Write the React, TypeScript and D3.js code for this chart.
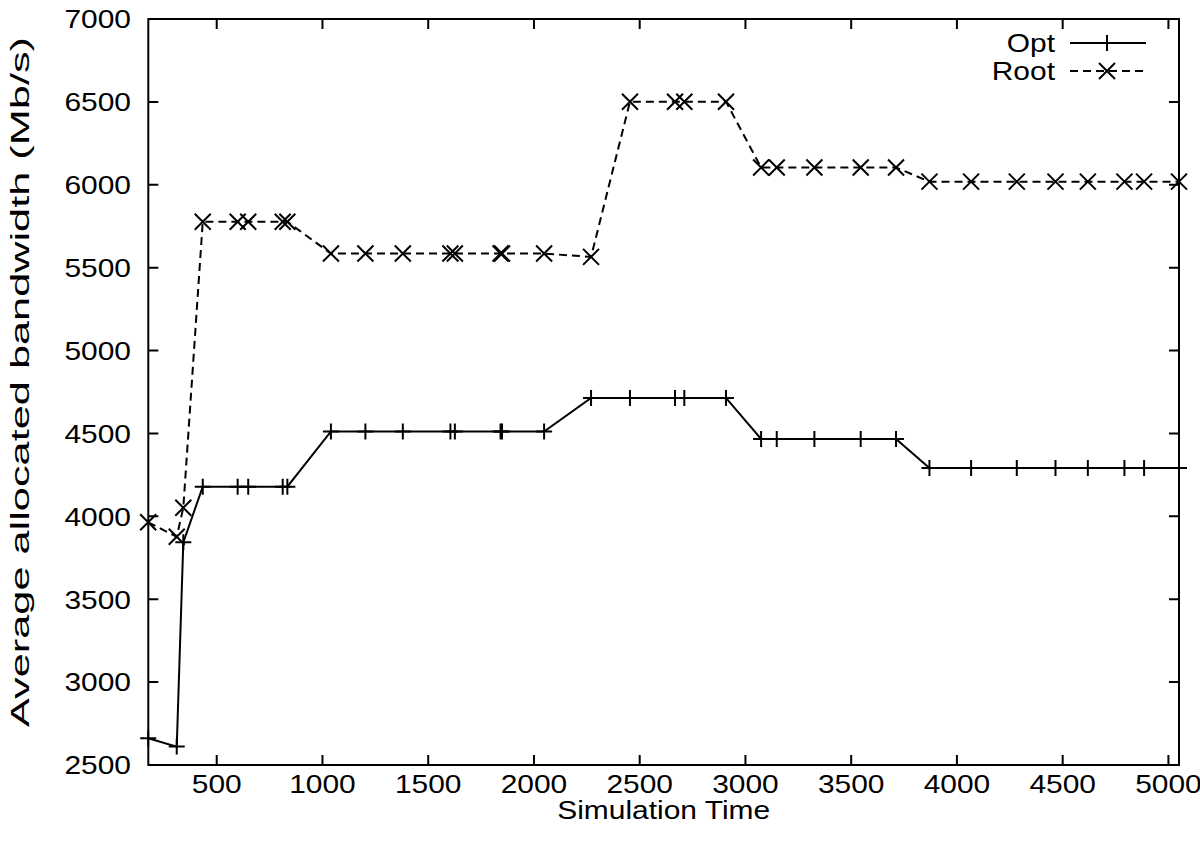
import React from 'react'
import * as d3 from 'd3'

// simulation times shared by both series
const times = [176, 311, 342, 434, 599, 649, 812, 834, 1040, 1203, 1380, 1605, 1626, 1842, 1849, 2048,
  2270, 2454, 2667, 2711, 2908, 3074, 3148, 3326, 3545, 3712, 3870, 4067, 4283, 4466, 4619, 4792, 4885, 5050]

const optValues = [2661, 2611, 3843, 4179, 4179, 4179, 4179, 4179, 4512, 4512, 4512, 4512, 4512, 4512, 4512, 4512,
  4714, 4714, 4714, 4714, 4714, 4467, 4467, 4467, 4467, 4467, 4292, 4292, 4292, 4292, 4292, 4292, 4292, 4292]

const rootValues = [3964, 3877, 4052, 5777, 5777, 5777, 5777, 5777, 5585, 5585, 5585, 5585, 5585, 5585, 5585, 5585,
  5565, 6501, 6501, 6501, 6501, 6104, 6104, 6104, 6104, 6104, 6019, 6019, 6019, 6019, 6019, 6019, 6019, 6019]

const xTicks = [500, 1000, 1500, 2000, 2500, 3000, 3500, 4000, 4500, 5000]
const yTicks = [2500, 3000, 3500, 4000, 4500, 5000, 5500, 6000, 6500, 7000]

const W = 1200
const H = 851
const left = 148.3, right = 1179, top = 19, bottom = 765
const font = '"Liberation Sans", Arial, Helvetica, sans-serif'
const fs = 26.5
const stretch = 1.13 // the reference glyphs are a bit wider than Arial

const plusPath = (x: number, y: number, s = 8) => `M${x - s},${y}H${x + s}M${x},${y - s}V${y + s}`
const crossPath = (x: number, y: number, s = 8) => `M${x - s},${y - s}L${x + s},${y + s}M${x - s},${y + s}L${x + s},${y - s}`

// text with glyphs widened along the baseline
function Label ({x, y, anchor, children, central}: any) {
  return (
    <text transform={`translate(${x},${y}) scale(${stretch},1)`} textAnchor={anchor}
      dominantBaseline={central ? 'central' : undefined}>{children}</text>
  )
}

export default function App () {
  const x = d3.scaleLinear().domain([176.5, 5050]).range([left, right])
  const y = d3.scaleLinear().domain([2500, 7000]).range([bottom, top])

  const line = d3.line<[number, number]>().x(d => x(d[0])).y(d => y(d[1]))
  const opt = times.map((t, i) => [t, optValues[i]] as [number, number])
  const root = times.map((t, i) => [t, rootValues[i]] as [number, number])

  const tickLen = 10

  return (
    <div style={{position: 'absolute', left: 0, top: 0}}>
      <svg width={W} height={H} style={{display: 'block', background: '#fff'}}>
        <g stroke='#000' strokeWidth={2} fill='none'>
          {/* ticks, mirrored on top and right */}
          {xTicks.map(t => (
            <path key={'xt' + t} d={`M${x(t)},${bottom}V${bottom - tickLen}M${x(t)},${top}V${top + tickLen}`} />
          ))}
          {yTicks.map(t => (
            <path key={'yt' + t} d={`M${left},${y(t)}H${left + tickLen}M${right},${y(t)}H${right - tickLen}`} />
          ))}
        </g>

        {/* series */}
        <path d={line(opt) || ''} fill='none' stroke='#000' strokeWidth={2} />
        <path d={line(root) || ''} fill='none' stroke='#000' strokeWidth={2} strokeDasharray='8,5' />
        <g stroke='#000' strokeWidth={2} fill='none'>
          {opt.map((d, i) => <path key={'o' + i} d={plusPath(x(d[0]), y(d[1]))} />)}
          {root.map((d, i) => <path key={'r' + i} d={crossPath(x(d[0]), y(d[1]))} />)}
        </g>

        <rect x={left} y={top} width={right - left} height={bottom - top} fill='none' stroke='#000' strokeWidth={2} />

        {/* tick labels and titles */}
        <g fontFamily={font} fontSize={fs} fill='#000'>
          {xTicks.map(t => (
            <Label key={'xl' + t} x={x(t)} y={793} anchor='middle'>{t}</Label>
          ))}
          {yTicks.map(t => (
            <Label key={'yl' + t} x={131} y={y(t)} anchor='end' central>{t}</Label>
          ))}
          <Label x={(left + right) / 2} y={819} anchor='middle'>Simulation Time</Label>
          <text transform={`translate(29,382) rotate(-90)`} textAnchor='middle'
            textLength={690} lengthAdjust='spacingAndGlyphs'>Average allocated bandwidth (Mb/s)</text>

          {/* legend */}
          <Label x={1055} y={43} anchor='end' central>Opt</Label>
          <Label x={1055} y={71} anchor='end' central>Root</Label>
        </g>
        <g stroke='#000' strokeWidth={2} fill='none'>
          <path d='M1070,43H1146' />
          <path d={plusPath(1107, 43)} />
          <path d='M1070,71H1146' strokeDasharray='8,5' />
          <path d={crossPath(1107, 71)} />
        </g>
      </svg>
    </div>
  )
}
